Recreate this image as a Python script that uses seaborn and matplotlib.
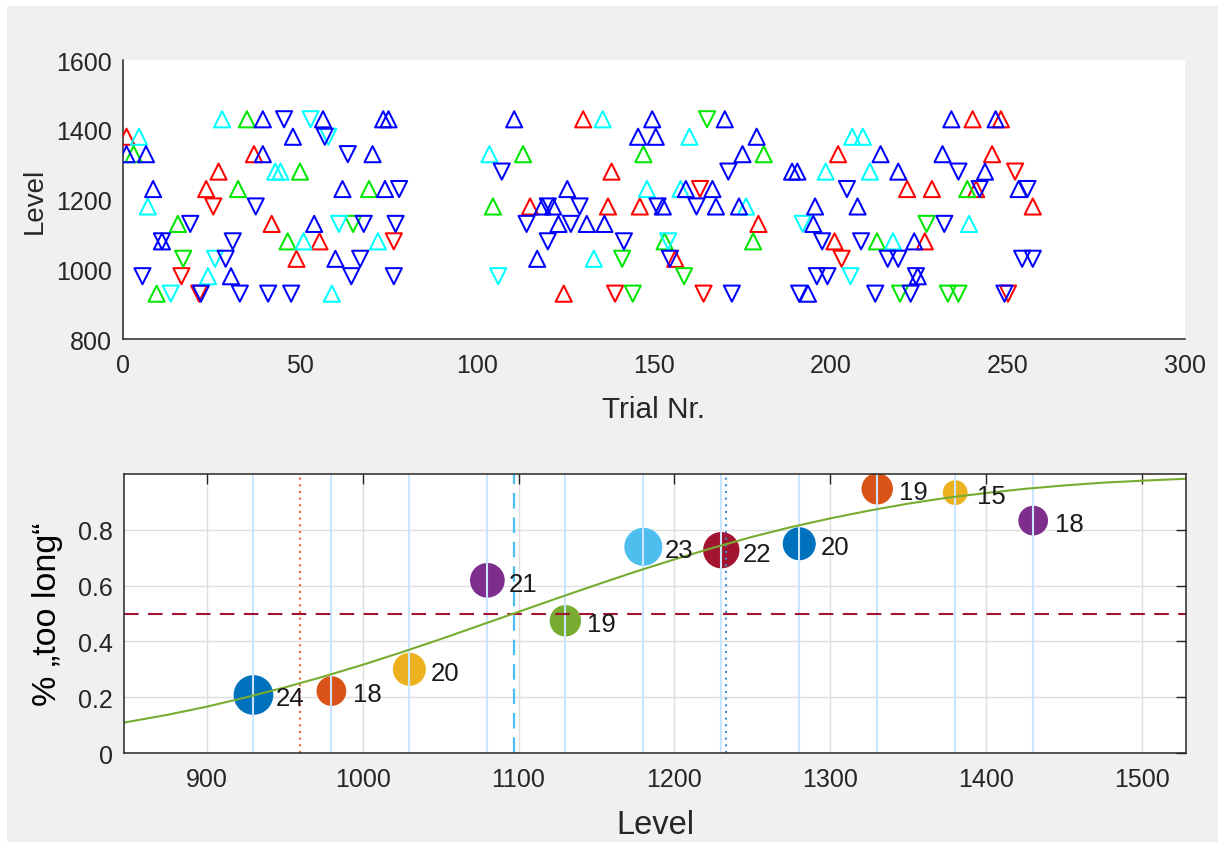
import numpy as np
import pandas as pd
import matplotlib
matplotlib.use("Agg")
import matplotlib.pyplot as plt
import seaborn as sns
from matplotlib.patches import Rectangle

# ---------------- top panel: staircase trials ----------------
red_up_trial = [1, 23.5, 27, 37, 42, 49, 55.5, 115, 124.5, 130, 137, 138, 146, 156, 179.5,
                201, 202, 221.5, 226.5, 228.5, 240, 241, 245.5, 248, 257]
red_up_level = [1380, 1230, 1280, 1330, 1130, 1030, 1080, 1180, 930, 1430, 1180, 1280, 1180, 1030, 1130,
                1080, 1330, 1230, 1080, 1230, 1430, 1230, 1330, 1430, 1180]
red_down_trial = [16.5, 21.5, 25.5, 76.5, 139, 163, 164, 203, 250, 252]
red_down_level = [980, 930, 1180, 1080, 930, 1230, 930, 1030, 930, 1280]

green_up_trial = [3, 9.5, 15.5, 32.5, 35, 46.5, 50, 69.5, 104.5, 113, 147, 153, 178, 181, 213, 238.5]
green_up_level = [1330, 930, 1130, 1230, 1430, 1080, 1280, 1230, 1180, 1330, 1330, 1080, 1080, 1330, 1080, 1230]
green_down_trial = [17, 65, 141, 144, 158.5, 165, 219.5, 227, 233, 236]
green_down_level = [1030, 1130, 1030, 930, 980, 1430, 930, 1130, 930, 930]

cyan_up_trial = [4.5, 7, 24, 28, 43, 44.5, 51, 59, 72, 103.5, 133, 135.5, 148, 157.5, 160, 176,
                 198.5, 206, 209, 211, 217.5, 239]
cyan_up_level = [1380, 1180, 980, 1430, 1280, 1280, 1080, 930, 1080, 1330, 1030, 1430, 1230, 1230, 1380, 1180,
                 1280, 1380, 1380, 1280, 1080, 1130]
cyan_down_trial = [13.5, 26, 53, 58, 61, 106, 154, 192, 205.5]
cyan_down_level = [930, 1030, 1430, 1380, 1130, 980, 1080, 1130, 980]

blue_up_trial = [1, 6.5, 8.5, 11, 30.5, 39.5, 39.5, 48, 54, 56.5, 60, 62, 70.5, 73.5, 74, 75, 110.5, 117,
                 118.5, 121.5, 123, 125.5, 131, 136, 145.5, 149.5, 150.5, 152.5, 159, 166.5, 167.5, 170,
                 174, 175, 179, 189, 190.5, 193.5, 195, 195.5, 207.5, 214, 219, 223.5, 224.5, 231.5, 234,
                 243.5, 246.5, 253]
blue_up_level = [1330, 1330, 1230, 1080, 980, 1430, 1330, 1380, 1130, 1430, 1030, 1230, 1330, 1430, 1230, 1430,
                 1430, 1030, 1180, 1180, 1130, 1230, 1130, 1130, 1380, 1430, 1380, 1180, 1230, 1230, 1180, 1430,
                 1180, 1330, 1380, 1280, 1280, 930, 1130, 1180, 1180, 1330, 1280, 1080, 980, 1330, 1430,
                 1280, 1430, 1230]
blue_down_trial = [5.5, 11, 19, 22, 29, 31, 33, 37.5, 41, 45.5, 47.5, 57, 63.5, 64.5, 67, 68, 76.5, 77, 78,
                   107, 114, 120, 120, 126.5, 129, 141.5, 151, 154.5, 162, 171, 172, 191, 196, 197.5, 199,
                   204.5, 208.5, 212.5, 216, 219, 222.5, 224, 232, 236, 242, 249, 254, 255.5, 257]
blue_down_level = [980, 1080, 1130, 930, 1030, 1080, 930, 1180, 930, 1430, 930, 1380, 1330, 980, 1030, 1130,
                   980, 1130, 1230, 1280, 1130, 1180, 1080, 1130, 1180, 1080, 1180, 1030, 1180, 1280, 930,
                   930, 980, 1080, 980, 1230, 1080, 930, 1030, 1030, 930, 980, 1130, 1280, 1230, 930, 1030,
                   1230, 1030]

# ---------------- bottom panel: psychometric data ----------------
levels = [930, 980, 1030, 1080, 1130, 1180, 1230, 1280, 1330, 1380, 1430]
p_too_long = [0.208, 0.222, 0.300, 0.619, 0.474, 0.739, 0.727, 0.750, 0.947, 0.933, 0.833]
n_trials = [24, 18, 20, 21, 19, 23, 22, 20, 19, 15, 18]
point_colors = ["#0072BD", "#D95319", "#EDB120", "#7E2F8E", "#77AC30", "#4DBEEE",
                "#A2142F", "#0072BD", "#D95319", "#EDB120", "#7E2F8E"]
curve_level = [847, 875, 900, 925, 950, 975, 1000, 1025, 1050, 1075, 1100, 1125, 1150, 1175, 1200,
               1225, 1250, 1275, 1300, 1325, 1350, 1375, 1400, 1425, 1450, 1475, 1500, 1528]
curve_p = [0.109, 0.137, 0.166, 0.199, 0.235, 0.274, 0.316, 0.361, 0.408, 0.457, 0.506, 0.555, 0.603,
           0.650, 0.694, 0.736, 0.775, 0.810, 0.841, 0.869, 0.894, 0.915, 0.932, 0.947, 0.959, 0.969,
           0.976, 0.983]
thr_25 = 960
thr_50 = 1097
thr_75 = 1233

# ---------------- figure ----------------
sns.set_theme(style="white")
plt.rcParams["font.family"] = ["Liberation Sans", "DejaVu Sans"]
TXT = "#262626"

W, H = 1218, 845
fig = plt.figure(figsize=(W / 100, H / 100), dpi=100)
fig.patch.set_facecolor("white")
fig.patches.append(Rectangle((7 / W, 2 / H), 1, 1 - 9 / H, transform=fig.transFigure,
                             facecolor="#F0F0F0", edgecolor="none", zorder=-10))

ax1 = fig.add_axes([123 / W, 1 - 340 / H, 1062 / W, 279 / H])
ax2 = fig.add_axes([124 / W, 1 - 754 / H, 1062 / W, 279 / H])

groups = [
    (red_up_trial, red_up_level, "#FF0000", "^"),
    (red_down_trial, red_down_level, "#FF0000", "v"),
    (green_up_trial, green_up_level, "#00E600", "^"),
    (green_down_trial, green_down_level, "#00E600", "v"),
    (cyan_up_trial, cyan_up_level, "#00FFFF", "^"),
    (cyan_down_trial, cyan_down_level, "#00FFFF", "v"),
    (blue_up_trial, blue_up_level, "#0000FF", "^"),
    (blue_down_trial, blue_down_level, "#0000FF", "v"),
]
for tr, lv, col, mk in groups:
    df = pd.DataFrame({"trial": tr, "level": lv})
    sns.scatterplot(data=df, x="trial", y="level", marker=mk, s=135, color=col,
                    edgecolor=col, linewidth=1.45, ax=ax1, legend=False, zorder=3)
    ax1.collections[-1].set_facecolor("none")

ax1.set_xlim(0, 300)
ax1.set_ylim(800, 1600)
ax1.set_xticks(np.arange(0, 301, 50))
ax1.set_yticks(np.arange(800, 1601, 200))
ax1.set_facecolor("white")
for s in ["top", "right"]:
    ax1.spines[s].set_visible(False)
for s in ["left", "bottom"]:
    ax1.spines[s].set_color(TXT)
    ax1.spines[s].set_linewidth(1.1)
ax1.tick_params(axis="both", direction="in", length=7, width=1.0, color=TXT,
                labelcolor=TXT, labelsize=18)
ax1.tick_params(axis="x", pad=10)
ax1.tick_params(axis="y", pad=8)
ax1.set_xlabel("Trial Nr.", fontsize=21.5, color=TXT)
ax1.set_ylabel("Level", fontsize=20, color=TXT)
ax1.xaxis.set_label_coords(0.5, -0.25)
ax1.xaxis.label.set_verticalalignment("center")
ax1.yaxis.set_label_coords(-0.083, 0.5)
ax1.yaxis.label.set_verticalalignment("center")

# ---------------- bottom panel ----------------
ax2.set_facecolor("white")
ax2.set_xlim(847, 1528)
ax2.set_ylim(0, 1)
ax2.set_xticks(np.arange(900, 1501, 100))
ax2.set_yticks([0, 0.2, 0.4, 0.6, 0.8])
ax2.set_yticklabels(["0", "0.2", "0.4", "0.6", "0.8"])
ax2.grid(True, color="#DEDEDE", linewidth=1.0, zorder=0)
ax2.set_axisbelow(True)

bdf = pd.DataFrame({"level": levels, "p": p_too_long, "n": n_trials,
                    "key": [str(i) for i in range(len(levels))]})
pal = {str(i): c for i, c in enumerate(point_colors)}
sns.scatterplot(data=bdf, x="level", y="p", hue="key", palette=pal,
                s=[(1.19 * n) ** 2 for n in n_trials], linewidth=0, ax=ax2,
                legend=False, zorder=2)
for lv, p, n in zip(levels, p_too_long, n_trials):
    ax2.text(lv + 14, p - 0.012, str(n), fontsize=18.5, color="#1a1a1a", va="center", ha="left",
             zorder=6)

for lv in levels:
    ax2.axvline(lv, color="#CCE5FF", linewidth=1.5, zorder=3)

ax2.axvline(thr_25, color="#E8693F", linestyle=(0, (1, 2.2)), linewidth=1.5, zorder=4)
ax2.axvline(thr_50, color="#4DBEEE", linestyle=(0, (7, 4)), linewidth=1.6, zorder=4)
ax2.axvline(thr_75, color="#3D8FD0", linestyle=(0, (1, 2.2)), linewidth=1.5, zorder=4)
ax2.axhline(0.5, color="#A2142F", linestyle=(0, (7, 4.5)), linewidth=1.5, zorder=4)

sns.lineplot(x=curve_level, y=curve_p, color="#77AC30", linewidth=1.5, ax=ax2, zorder=5)

for s in ax2.spines.values():
    s.set_color(TXT)
    s.set_linewidth(1.1)
    s.set_visible(True)
    s.set_zorder(7)
ax2.tick_params(axis="both", direction="in", length=7, width=1.0, color=TXT,
                labelcolor=TXT, labelsize=18, top=True, right=True)
ax2.tick_params(axis="x", pad=10)
ax2.tick_params(axis="y", pad=8)
ax2.set_xlabel("Level", fontsize=23.5, color=TXT)
ax2.set_ylabel("% \u201etoo long\u201c", fontsize=24.5, color="black")
ax2.xaxis.set_label_coords(0.5, -0.258)
ax2.xaxis.label.set_verticalalignment("center")
ax2.yaxis.set_label_coords(-0.072, 0.5)
ax2.yaxis.label.set_verticalalignment("center")

fig.savefig("out.png", dpi=100, facecolor=fig.get_facecolor())
